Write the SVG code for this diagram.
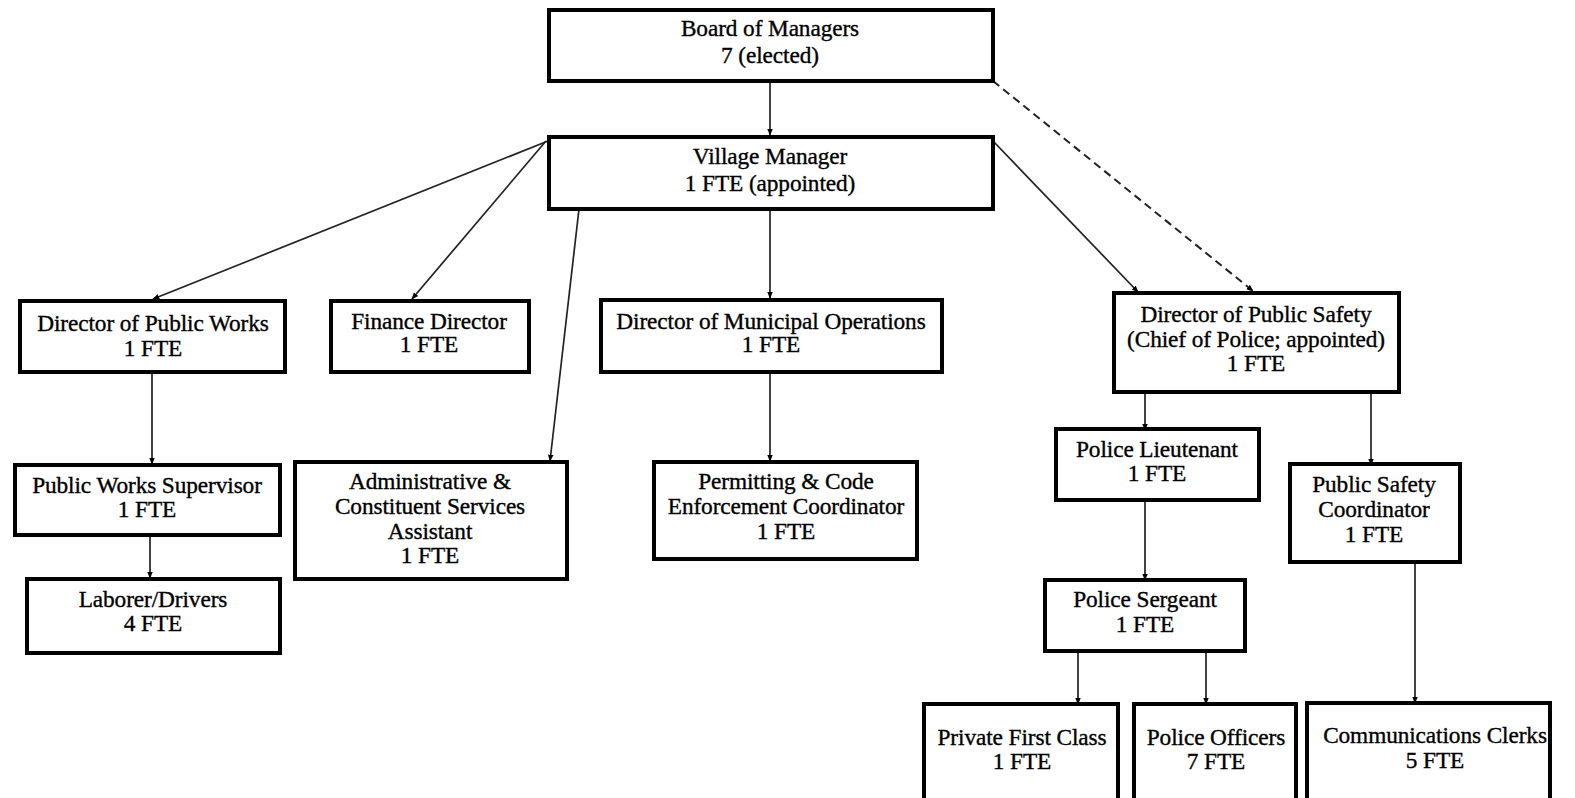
<svg xmlns="http://www.w3.org/2000/svg" width="1575" height="798" viewBox="0 0 1575 798">
<defs>
<marker id="ah" viewBox="0 0 10 10" refX="9" refY="5" markerWidth="7" markerHeight="7" markerUnits="userSpaceOnUse" orient="auto"><path d="M0,1 L10,5 L0,9 z" fill="#000"/></marker>
<style>
.box{fill:#fff;stroke:#000;stroke-width:4}
.t{font-family:"Liberation Serif","Times New Roman",serif;font-size:23.3px;letter-spacing:-0.1px;fill:#000;stroke:#000;stroke-width:0.35;text-anchor:middle}
.c{stroke:#222;stroke-width:1.7;fill:none;marker-end:url(#ah)}
.d{stroke-dasharray:8,5;stroke-width:2}
</style>
</defs>
<rect width="1575" height="798" fill="#fff"/>
<g id="connectors">
<line class="c" x1="770" y1="81" x2="770" y2="135"/>
<line class="c d" x1="993" y1="81" x2="1253" y2="291"/>
<line class="c" x1="548" y1="141" x2="153" y2="299"/>
<line class="c" x1="546" y1="141" x2="412" y2="299"/>
<line class="c" x1="579" y1="209" x2="550" y2="461"/>
<line class="c" x1="770" y1="209" x2="770" y2="298"/>
<line class="c" x1="993" y1="141" x2="1138" y2="292"/>
<line class="c" x1="152" y1="372" x2="152" y2="464"/>
<line class="c" x1="150" y1="536" x2="150" y2="578"/>
<line class="c" x1="770" y1="372" x2="770" y2="461"/>
<line class="c" x1="1145" y1="393" x2="1145" y2="430"/>
<line class="c" x1="1371" y1="393" x2="1371" y2="465"/>
<line class="c" x1="1145" y1="500" x2="1145" y2="580"/>
<line class="c" x1="1078" y1="651" x2="1078" y2="704"/>
<line class="c" x1="1206" y1="651" x2="1206" y2="704"/>
<line class="c" x1="1415" y1="563" x2="1415" y2="703"/>
</g>
<g id="board"><rect class="box" x="549" y="10" width="444" height="71"/><text class="t" x="770" y="36">Board of Managers</text><text class="t" x="770" y="63">7 (elected)</text></g>
<g id="village-manager"><rect class="box" x="549" y="137" width="444" height="72"/><text class="t" x="770" y="164">Village Manager</text><text class="t" x="770" y="191">1 FTE (appointed)</text></g>
<g id="dir-public-works"><rect class="box" x="20" y="301" width="265" height="71"/><text class="t" x="153" y="331">Director of Public Works</text><text class="t" x="153" y="356">1 FTE</text></g>
<g id="finance-director"><rect class="box" x="331" y="301" width="198" height="71"/><text class="t" x="429" y="329">Finance Director</text><text class="t" x="429" y="352">1 FTE</text></g>
<g id="dir-municipal-ops"><rect class="box" x="601" y="300" width="341" height="72"/><text class="t" x="771" y="329">Director of Municipal Operations</text><text class="t" x="771" y="352">1 FTE</text></g>
<g id="dir-public-safety"><rect class="box" x="1114" y="293" width="285" height="99"/><text class="t" x="1256" y="322">Director of Public Safety</text><text class="t" x="1256" y="347">(Chief of Police; appointed)</text><text class="t" x="1256" y="371">1 FTE</text></g>
<g id="pw-supervisor"><rect class="box" x="15" y="465" width="265" height="70"/><text class="t" x="147" y="493">Public Works Supervisor</text><text class="t" x="147" y="517">1 FTE</text></g>
<g id="laborer-drivers"><rect class="box" x="27" y="579" width="253" height="74"/><text class="t" x="153" y="607">Laborer/Drivers</text><text class="t" x="153" y="631">4 FTE</text></g>
<g id="admin-assistant"><rect class="box" x="295" y="462" width="272" height="117"/><text class="t" x="430" y="489">Administrative &amp;</text><text class="t" x="430" y="514">Constituent Services</text><text class="t" x="430" y="539">Assistant</text><text class="t" x="430" y="563">1 FTE</text></g>
<g id="permitting"><rect class="box" x="654" y="462" width="263" height="97"/><text class="t" x="786" y="489">Permitting &amp; Code</text><text class="t" x="786" y="514">Enforcement Coordinator</text><text class="t" x="786" y="539">1 FTE</text></g>
<g id="police-lieutenant"><rect class="box" x="1056" y="429" width="203" height="71"/><text class="t" x="1157" y="457">Police Lieutenant</text><text class="t" x="1157" y="481">1 FTE</text></g>
<g id="public-safety-coordinator"><rect class="box" x="1290" y="464" width="170" height="98"/><text class="t" x="1374" y="492">Public Safety</text><text class="t" x="1374" y="517">Coordinator</text><text class="t" x="1374" y="542">1 FTE</text></g>
<g id="police-sergeant"><rect class="box" x="1045" y="580" width="200" height="71"/><text class="t" x="1145" y="607">Police Sergeant</text><text class="t" x="1145" y="632">1 FTE</text></g>
<g id="private-first-class"><rect class="box" x="924" y="704" width="194" height="96"/><text class="t" x="1022" y="745">Private First Class</text><text class="t" x="1022" y="769">1 FTE</text></g>
<g id="police-officers"><rect class="box" x="1134" y="704" width="162" height="96"/><text class="t" x="1216" y="745">Police Officers</text><text class="t" x="1216" y="769">7 FTE</text></g>
<g id="communications-clerks"><rect class="box" x="1307" y="703" width="243" height="97"/><text class="t" x="1435" y="743">Communications Clerks</text><text class="t" x="1435" y="768">5 FTE</text></g>
</svg>
